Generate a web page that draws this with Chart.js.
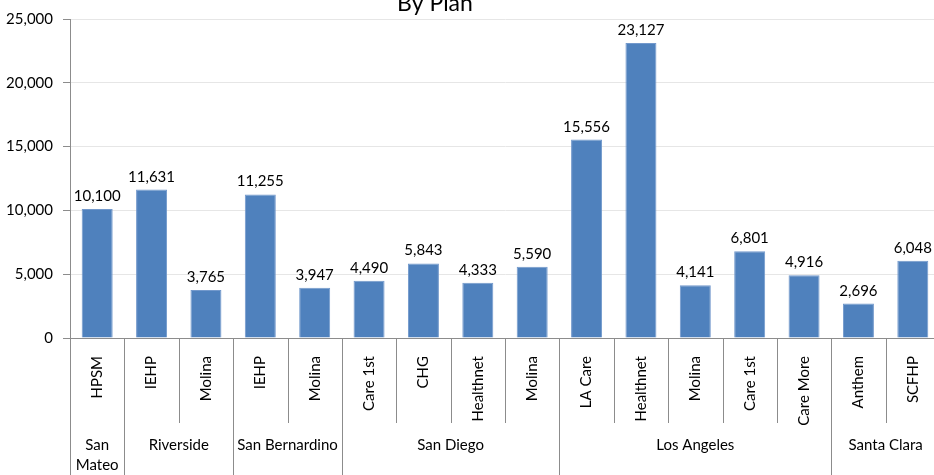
<!DOCTYPE html>
<html>
<head>
<meta charset="utf-8">
<script src="https://cdn.jsdelivr.net/npm/chart.js@4"></script>
<style>
html,body{margin:0;padding:0;background:#fff;overflow:hidden;}
#wrap{width:942px;height:475px;position:relative;}
</style>
</head>
<body>
<div id="wrap"><canvas id="c"></canvas></div>
<script>
const plans = ["HPSM","IEHP","Molina","IEHP","Molina","Care 1st","CHG","Healthnet","Molina","LA Care","Healthnet","Molina","Care 1st","Care More","Anthem","SCFHP"];
const counties = [
  {name:["San","Mateo"], count:1},
  {name:["Riverside"], count:2},
  {name:["San Bernardino"], count:2},
  {name:["San Diego"], count:4},
  {name:["Los Angeles"], count:5},
  {name:["Santa Clara"], count:2}
];
const members = [10100,11631,3765,11255,3947,4490,5843,4333,5590,15556,23127,4141,6801,4916,2696,6048];
const yTicks = [0,5000,10000,15000,20000,25000];
const titleText = "By Plan";

const FONT = "Lato, 'Open Sans', sans-serif";
const FS = 15;
const fmt = v => v.toLocaleString('en-US');

const extras = {
  id:'extras',
  afterDatasetsDraw(chart){
    const ctx = chart.ctx;
    const meta = chart.getDatasetMeta(0);
    ctx.save();
    ctx.fillStyle = '#000';
    ctx.font = FS + 'px ' + FONT;
    ctx.textAlign = 'center';
    ctx.textBaseline = 'alphabetic';
    meta.data.forEach((bar,i)=>{
      ctx.fillText(fmt(members[i]), bar.x, bar.y - 8);
    });
    ctx.restore();
  },
  afterDraw(chart){
    const ctx = chart.ctx;
    const x = chart.scales.x;
    const area = chart.chartArea;
    const n = plans.length;
    const cw = (x.right - x.left)/n;
    ctx.save();
    ctx.strokeStyle = '#8c8c8c';
    ctx.lineWidth = 1;
    const groupEdges = new Set([0]);
    let acc = 0;
    counties.forEach(c=>{acc += c.count; groupEdges.add(acc);});
    for(let i=0;i<=n;i++){
      const px = Math.round(x.left + i*cw) + 0.5;
      const yEnd = groupEdges.has(i) ? chart.height : area.bottom + 85;
      ctx.beginPath();
      ctx.moveTo(px, area.bottom);
      ctx.lineTo(px, yEnd);
      ctx.stroke();
    }
    ctx.fillStyle = '#000';
    ctx.font = FS + 'px ' + FONT;
    ctx.textAlign = 'center';
    ctx.textBaseline = 'middle';
    let start = 0;
    counties.forEach(c=>{
      const cx = x.left + (start + c.count/2)*cw;
      c.name.forEach((line,j)=>{
        ctx.fillText(line, cx, area.bottom + 107 + j*20);
      });
      start += c.count;
    });
    ctx.font = '23px ' + FONT;
    ctx.textBaseline = 'alphabetic';
    ctx.fillText(titleText, 435, 11);
    ctx.restore();
  }
};

new Chart(document.getElementById('c'), {
  type:'bar',
  data:{
    labels: plans,
    datasets:[{
      data: members,
      backgroundColor:'#4F81BD',
      borderColor:'#7399CC',
      borderWidth:1,
      barPercentage:0.57,
      categoryPercentage:1
    }]
  },
  options:{
    responsive:true,
    maintainAspectRatio:false,
    animation:false,
    layout:{padding:{top:16,right:2,left:0,bottom:0}},
    plugins:{legend:{display:false},tooltip:{enabled:false},title:{display:false}},
    scales:{
      x:{
        grid:{display:false},
        border:{display:true,color:'#8c8c8c',width:1},
        ticks:{
          color:'#000',
          font:{family:FONT,size:FS},
          minRotation:90,maxRotation:90,
          padding:10,
          autoSkip:false
        },
        afterFit(scale){ scale.height = 137; }
      },
      y:{
        min:0,max:25000,
        afterBuildTicks(scale){ scale.ticks = yTicks.map(v=>({value:v})); },
        grid:{color:'#e6e6e6',tickLength:7,tickColor:'#8c8c8c',drawTicks:true},
        border:{display:true,color:'#8c8c8c',width:1},
        ticks:{
          color:'#000',
          font:{family:FONT,size:FS},
          padding:10,
          callback:v=>fmt(v)
        },
        afterFit(scale){ scale.width = 70; }
      }
    }
  },
  plugins:[extras]
});
</script>
</body>
</html>
